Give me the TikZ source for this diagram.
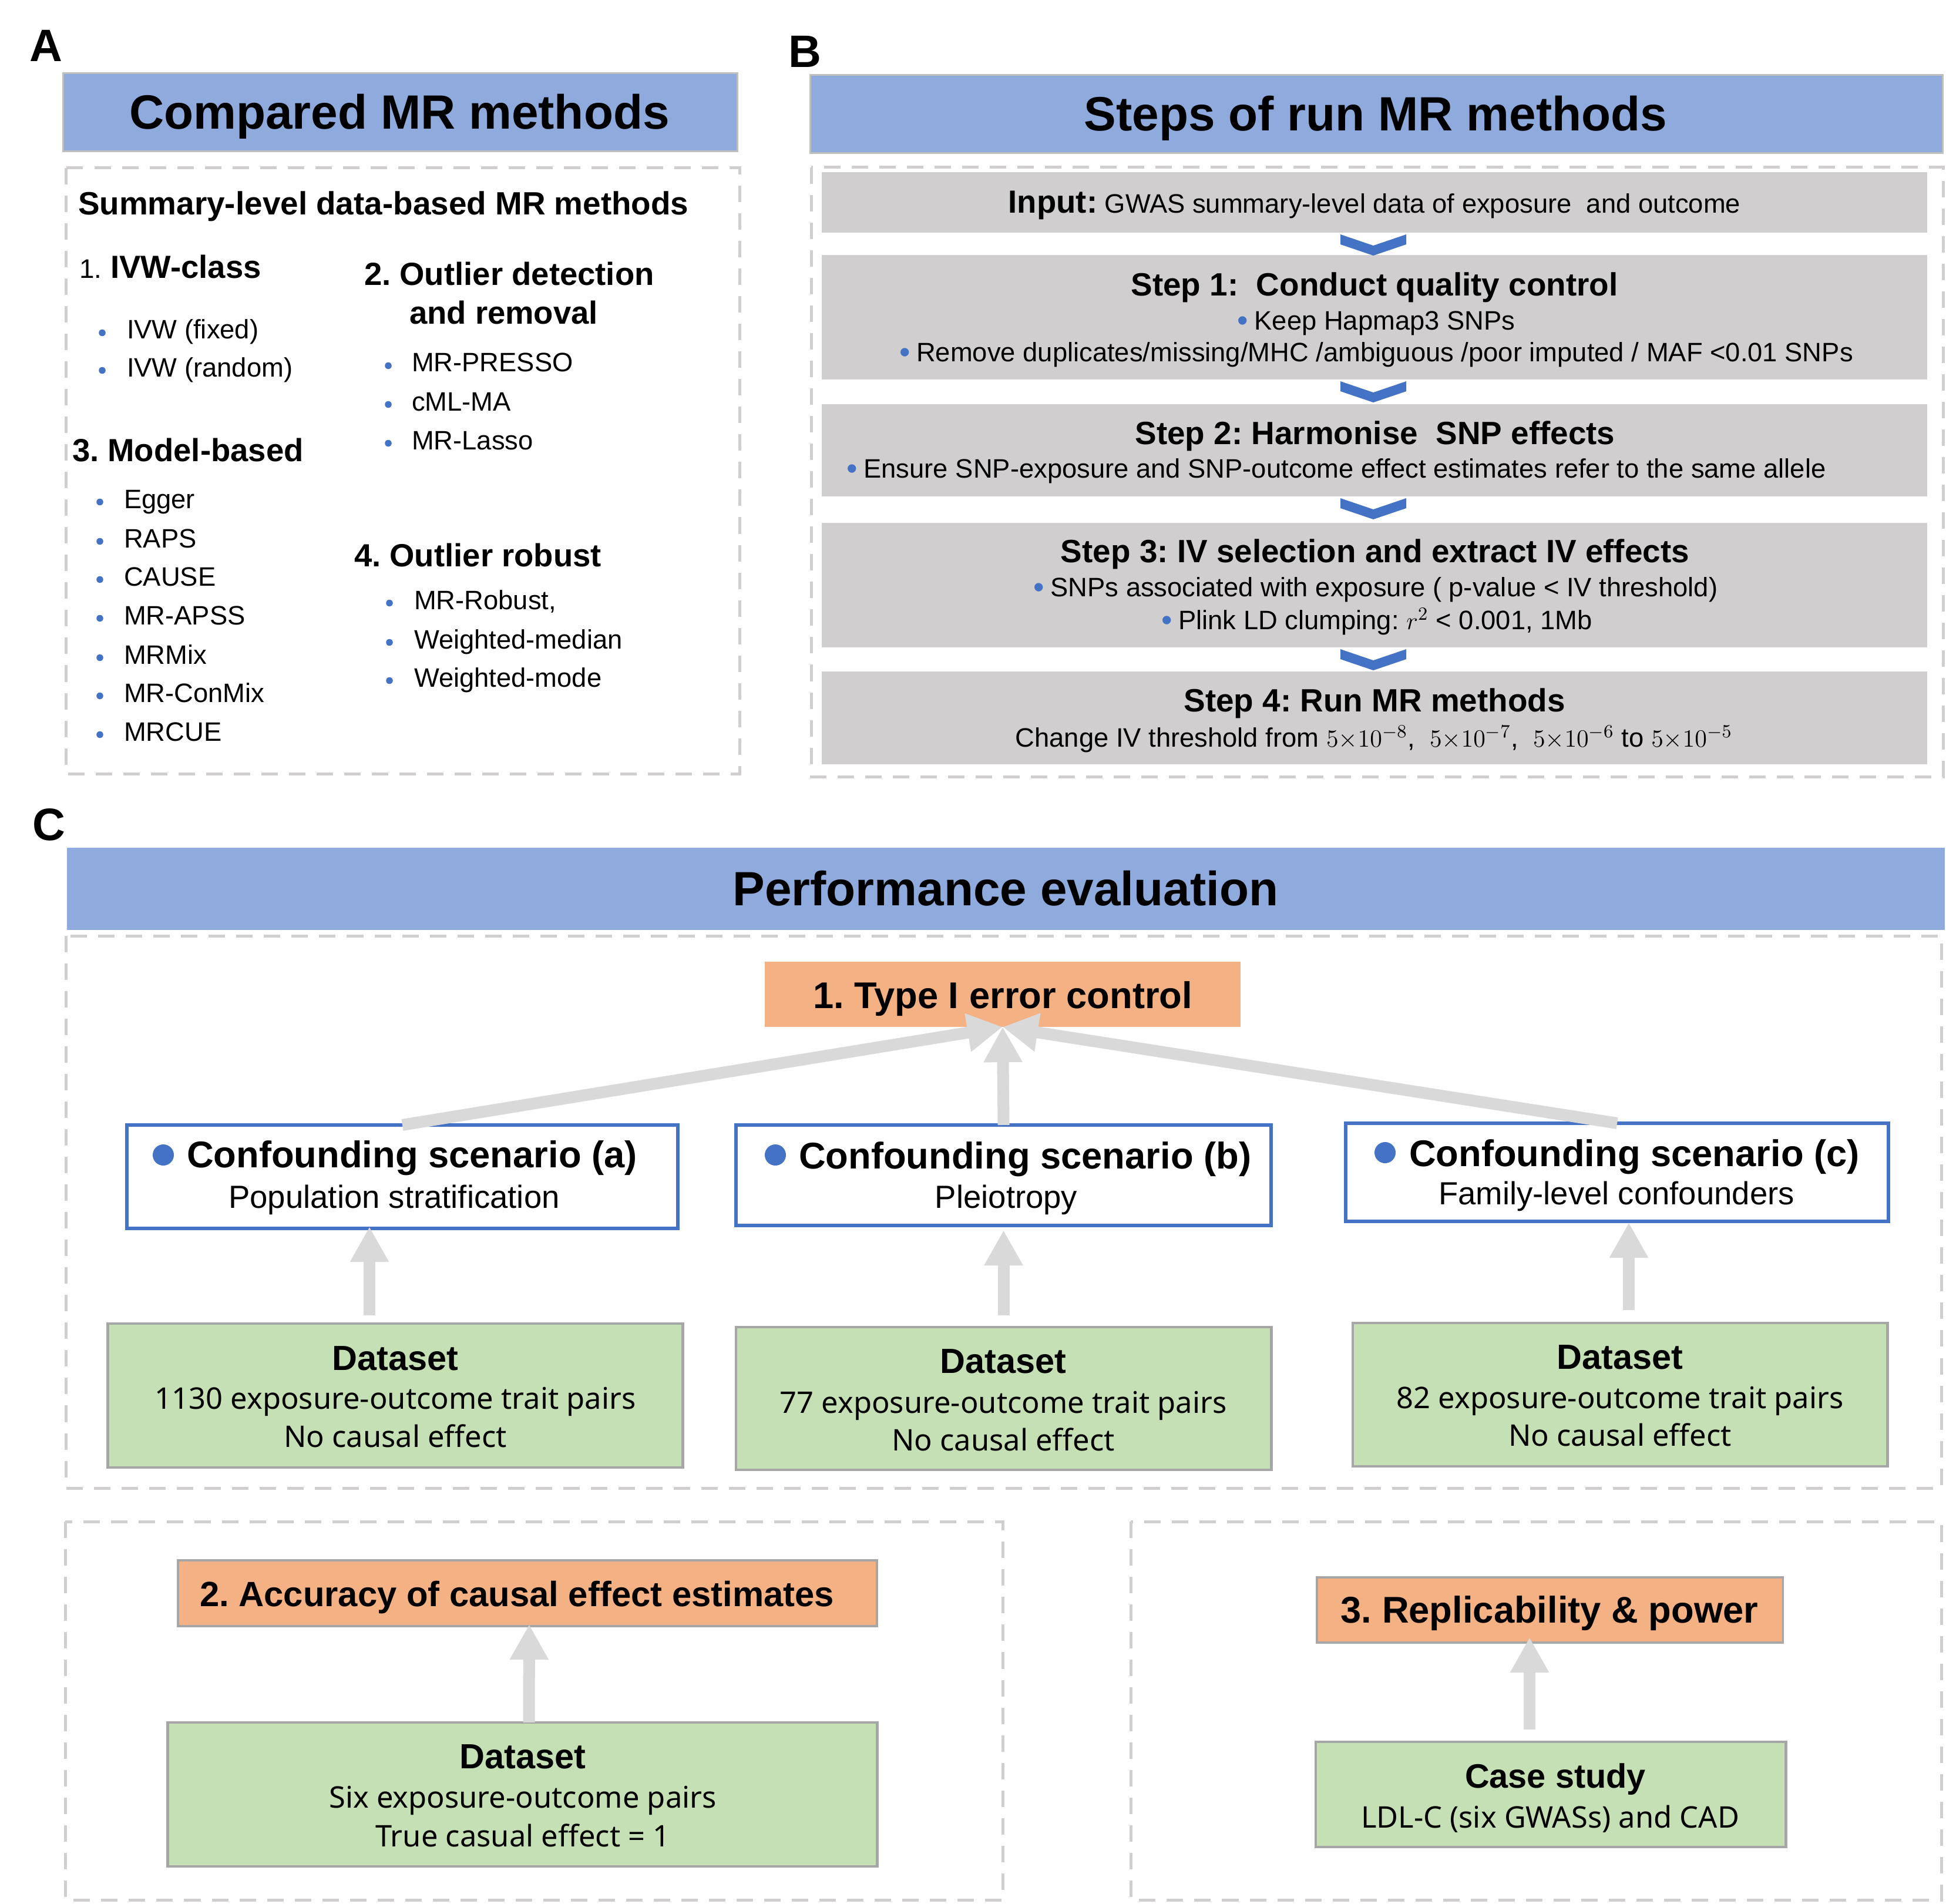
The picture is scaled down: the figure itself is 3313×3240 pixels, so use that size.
\documentclass[tikz,border=0pt]{standalone}
\usepackage{fontspec}
\setmainfont{Liberation Sans}
\newfontfamily\notosans{Noto Sans}
\usetikzlibrary{arrows.meta,calc}

\definecolor{ttlblue}{HTML}{8FAADC}
\definecolor{bulblue}{HTML}{4472C4}
\definecolor{stepgrey}{HTML}{D0CECE}
\definecolor{dashgrey}{HTML}{D0CECE}
\definecolor{ttlgrey}{HTML}{BFBFBF}
\definecolor{bordgrey}{HTML}{A6A6A6}
\definecolor{arrgrey}{HTML}{D9D9D9}
\definecolor{evalorange}{HTML}{F4B183}
\definecolor{datagreen}{HTML}{C5E0B4}

\newcommand{\fsz}[1]{\fontsize{#1}{#1}\selectfont}
\newcommand{\bul}{\raisebox{-0.6pt}{\fsz{15}\color{bulblue}•}\hspace{3pt}}

\begin{document}
\frenchspacing
\begin{tikzpicture}
	[x=0.01cm,y=-0.01cm,
	every node/.style={inner sep=0pt,outer sep=0pt},
	letter/.style={anchor=base west,font=\fsz{22}\bfseries},
	ttlbox/.style={fill=ttlblue,draw=ttlgrey,line width=0.03cm},
	ttltxt/.style={anchor=base,font=\fsz{23.3}\bfseries},
	dashbox/.style={draw=dashgrey,line width=0.05cm,dash pattern=on 0.28cm off 0.19cm},
	head/.style={anchor=base west,font=\fsz{15.5}\bfseries},
	item/.style={anchor=base west,font=\fsz{12.9}},
	abul/.style={circle,fill=bulblue,minimum size=0.115cm},
	stepbox/.style={fill=stepgrey,minimum width=18.8cm},
	steptitle/.style={anchor=base,font=\fsz{15.6}\bfseries},
	steptxt/.style={anchor=base,font=\fsz{12.9}},
	chev/.style={fill=bulblue},
	evalbox/.style={fill=evalorange},
	evaltxt/.style={anchor=base,font=\fsz{18}\bfseries},
	scenbox/.style={fill=white,draw=bulblue,line width=0.06cm},
	scendot/.style={circle,fill=bulblue,minimum size=0.36cm},
	scentitle/.style={anchor=base west,font=\fsz{18}\bfseries},
	scentxt/.style={anchor=base,font=\fsz{15.5}},
	databox/.style={fill=datagreen,draw=bordgrey,line width=0.045cm},
	datatitle/.style={anchor=base,font=\fsz{16.9}\bfseries},
	datatxt/.style={anchor=base,font=\notosans\fsz{14.4}},
	bigarr/.style={draw=arrgrey,line width=0.2cm,-{Triangle[length=0.6cm,width=0.62cm]}}]
	\useasboundingbox (0,0) rectangle (3313,3240);
	\fill[white] (0,0) rectangle (3313,3240);
	
	% A
	\node[letter] (lA) at (51,105) {A};
	\node[ttlbox,minimum width=11.47cm,minimum height=1.32cm] (ttlA) at (681.5,191) {};
	\node[ttltxt] (ttlAT) at (680,220) {Compared MR methods};
	\draw[dashbox] (112,286) rectangle (1259,1317);
	\node[anchor=base west,font=\fsz{15.6}\bfseries] (sumT) at (133,366) {Summary-level data-based MR methods};
	\node[head] (h1) at (135,474) {{\fsz{13}\mdseries 1.} IVW-class};
	\node[head] (h2a) at (620,486) {2. Outlier detection};
	\node[head] (h2b) at (697,551) {and removal};
	\node[head] (h3) at (123,785) {3. Model-based};
	\node[head] (h4) at (603,964) {4. Outlier robust};
	\foreach \yy/\txt [count=\i] in {577/IVW (fixed),641/IVW (random)}
	{
		\node[abul] (ib\i) at (174,\yy-10.5) {};
		\node[item] (it\i) at (216,\yy) {\txt};
	}
	\foreach \yy/\txt [count=\i] in {865/Egger,932/RAPS,997/CAUSE,1063/MR-APSS,
		1130/MRMix,1195/MR-ConMix,1261/MRCUE}
	{
		\node[abul] (mb\i) at (170,\yy-10.5) {};
		\node[item] (mt\i) at (211,\yy) {\txt};
	}
	\foreach \yy/\txt [count=\i] in {633/MR-PRESSO,699/cML-MA,765/MR-Lasso}
	{
		\node[abul] (ob\i) at (661,\yy-10.5) {};
		\node[item] (ot\i) at (701,\yy) {\txt};
	}
	\foreach \yy/\txt [count=\i] in {1037/{MR-Robust,},1104/Weighted-median,1169/Weighted-mode}
	{
		\node[abul] (rb\i) at (663,\yy-10.5) {};
		\node[item] (rt\i) at (705,\yy) {\txt};
	}
	
	% B
	\node[letter] (lB) at (1342,115) {B};
	\node[ttlbox,minimum width=19.27cm,minimum height=1.32cm] (ttlB) at (2343.5,194) {};
	\node[ttltxt] (ttlBT) at (2342,223) {Steps of run MR methods};
	\draw[dashbox] (1381,285) rectangle (3308,1322);
	\node[stepbox,minimum height=1.03cm] (inp) at (2340,344.5) {};
	\node[stepbox,minimum height=2.12cm] (st1) at (2340,540) {};
	\node[stepbox,minimum height=1.57cm] (st2) at (2340,766.5) {};
	\node[stepbox,minimum height=2.12cm] (st3) at (2340,996) {};
	\node[stepbox,minimum height=1.58cm] (st4) at (2340,1222) {};
	\foreach \up in {inp,st1,st2,st3}
	{
		\fill[chev] ($(\up.south)+(-58,3)$) -- ++(56,19) -- ++(56,-19) -- ++(0,17)
			-- ++(-56,19) -- ++(-56,-19) -- cycle;
	}
	\node[steptxt] (inpT) at (2340,363) {{\fsz{15.5}\bfseries Input:} GWAS summary-level data of exposure\ \ and outcome};
	\node[steptitle] (st1T) at (2340,504) {Step 1:\ \ Conduct quality control};
	\node[steptxt] (st1a) at (2343,561) {\bul Keep Hapmap3 SNPs};
	\node[steptxt] (st1b) at (2343,615) {\bul Remove duplicates/missing/MHC /ambiguous /poor imputed / MAF <0.01 SNPs};
	\node[steptitle] (st2T) at (2341,756) {Step 2: Harmonise\ \ SNP effects};
	\node[steptxt] (st2a) at (2275,813) {\bul Ensure SNP-exposure and SNP-outcome effect estimates refer to the same allele};
	\node[steptitle] (st3T) at (2341,957) {Step 3: IV selection and extract IV effects};
	\node[steptxt] (st3a) at (2342,1015) {\bul SNPs associated with exposure ( p-value < IV threshold)};
	\node[steptxt] (st3b) at (2344,1071) {\bul Plink LD clumping: $r^2$ < 0.001, 1Mb};
	\node[steptitle] (st4T) at (2340,1211) {Step 4: Run MR methods};
	\node[steptxt] (st4a) at (2339,1271) {Change IV threshold from $5{\times}10^{-8}$,\ \ $5{\times}10^{-7}$,\ \ $5{\times}10^{-6}\ \mathrm{to}\ 5{\times}10^{-5}$};
	
	% C
	\node[letter] (lC) at (55,1430) {C};
	\node[fill=ttlblue,minimum width=31.95cm,minimum height=1.4cm] (ttlC) at (1712.5,1513) {};
	\node[ttltxt] (ttlCT) at (1712,1541) {Performance evaluation};
	\draw[dashbox] (112,1593) rectangle (3305,2533);
	\node[evalbox,minimum width=8.1cm,minimum height=1.11cm] (ty) at (1707,1692.5) {};
	\node[evaltxt] (tyT) at (1707,1716) {1. Type I error control};
	
	\node[scenbox,minimum width=9.38cm,minimum height=1.76cm] (sa) at (685,2003) {};
	\node[scenbox,minimum width=9.11cm,minimum height=1.71cm] (sb) at (1708.5,2000.5) {};
	\node[scenbox,minimum width=9.24cm,minimum height=1.67cm] (sc) at (2753,1995.5) {};
	\node[scendot] (saD) at (278,1966) {};
	\node[scentitle] (saT) at (318,1987) {Confounding scenario (a)};
	\node[scentxt] (saS) at (671,2056) {Population stratification};
	\node[scendot] (sbD) at (1320,1966) {};
	\node[scentitle] (sbT) at (1360,1989) {Confounding scenario (b)};
	\node[scentxt] (sbS) at (1713,2056) {Pleiotropy};
	\node[scendot] (scD) at (2358,1962) {};
	\node[scentitle] (scT) at (2399,1985) {Confounding scenario (c)};
	\node[scentxt] (scS) at (2752,2050) {Family-level confounders};
	
	\node[databox,minimum width=9.78cm,minimum height=2.45cm] (da) at (673,2375.5) {};
	\node[datatitle] (daT) at (673,2332) {Dataset};
	\node[datatxt] (da1) at (673,2398) {1130 exposure-outcome trait pairs};
	\node[datatxt] (da2) at (673,2463) {No causal effect};
	\node[databox,minimum width=9.11cm,minimum height=2.43cm] (db) at (1708.5,2380.5) {};
	\node[datatitle] (dbT) at (1708,2337) {Dataset};
	\node[datatxt] (db1) at (1708,2405) {77 exposure-outcome trait pairs};
	\node[datatxt] (db2) at (1708,2469) {No causal effect};
	\node[databox,minimum width=9.1cm,minimum height=2.44cm] (dc) at (2758,2374) {};
	\node[datatitle] (dcT) at (2758,2330) {Dataset};
	\node[datatxt] (dc1) at (2758,2397) {82 exposure-outcome trait pairs};
	\node[datatxt] (dc2) at (2758,2461) {No causal effect};
	
	\path
	\foreach \src in {sa,sb,sc}
	{
		(\src.north) edge[bigarr] (ty.south)
	};
	\draw[bigarr] ($(da.north)+(-44,-14)$) -- ($(sa.south)+(-56,-3)$);
	\draw[bigarr] ($(db.north)+(0,-20)$) -- ($(sb.south)+(0,8)$);
	\draw[bigarr] ($(dc.north)+(15,-22)$) -- ($(sc.south)+(20,2)$);
	
	% C, bottom
	\draw[dashbox] (111,2590) rectangle (1707,3234);
	\node[evalbox,draw=bordgrey,line width=0.04cm,minimum width=11.9cm,minimum height=1.12cm] (acc) at (898,2712) {};
	\node[anchor=base,font=\fsz{17}\bfseries] (accT) at (880,2734) {2. Accuracy of causal effect estimates};
	\node[databox,minimum width=12.07cm,minimum height=2.45cm] (dd) at (889.5,3054.5) {};
	\node[datatitle] (ddT) at (890,3010) {Dataset};
	\node[datatxt] (dd1) at (890,3077) {Six exposure-outcome pairs};
	\node[datatxt] (dd2) at (890,3143) {True casual effect = 1};
	\draw[bigarr] ($(dd.north)+(11,0)$) -- ($(acc.south)+(3,-3)$);
	
	\draw[dashbox] (1925,2590) rectangle (3305,3234);
	\node[evalbox,draw=bordgrey,line width=0.035cm,minimum width=7.93cm,minimum height=1.11cm] (rep) at (2638.5,2740.5) {};
	\node[evaltxt] (repT) at (2638,2762) {3. Replicability \& power};
	\node[databox,minimum width=8cm,minimum height=1.79cm] (cs) at (2640,3054.5) {};
	\node[datatitle,font=\fsz{16.4}\bfseries] (csT) at (2648,3043) {Case study};
	\node[datatxt] (cs1) at (2639,3111) {LDL-C (six GWASs) and CAD};
	\draw[bigarr] ($(cs.north)+(-36,-21)$) -- ($(rep.south)+(-34.5,-9)$);
\end{tikzpicture}
\end{document}
